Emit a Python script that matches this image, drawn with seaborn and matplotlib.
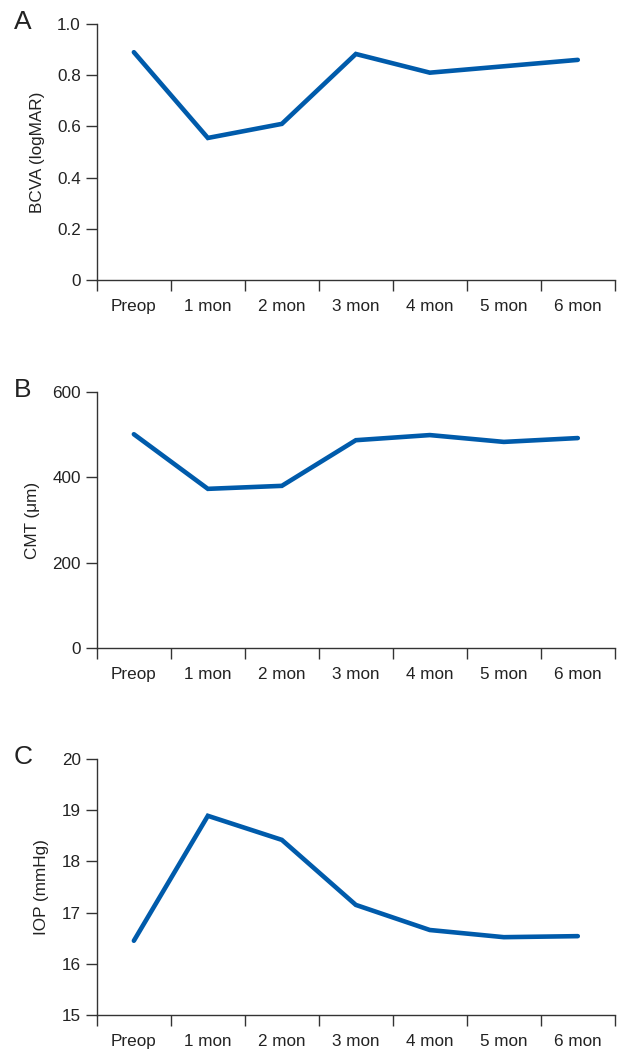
import matplotlib
matplotlib.use("Agg")
import matplotlib.pyplot as plt
import seaborn as sns
import pandas as pd
import numpy as np

# data
visits = ["Preop", "1 mon", "2 mon", "3 mon", "4 mon", "5 mon", "6 mon"]
bcva = [0.89, 0.555, 0.61, 0.883, 0.81, 0.835, 0.86]
cmt = [501, 373, 380, 487, 499, 483, 492]
iop = [16.45, 18.89, 18.42, 17.15, 16.66, 16.52, 16.54]

sns.set_style("ticks")
plt.rcParams["font.family"] = ["Liberation Sans", "DejaVu Sans"]

line_color = "#005bab"
axis_color = "#333333"

fig = plt.figure(figsize=(6.21, 10.54), dpi=100)

panels = [
    ("A", bcva, "BCVA (logMAR)", (0, 1.0), [0, 0.2, 0.4, 0.6, 0.8, 1.0], ["0", "0.2", "0.4", "0.6", "0.8", "1.0"], 0.7343),
    ("B", cmt, "CMT (\u03bcm)", (0, 600), [0, 200, 400, 600], ["0", "200", "400", "600"], 0.3852),
    ("C", iop, "IOP (mmHg)", (15, 20), [15, 16, 17, 18, 19, 20], ["15", "16", "17", "18", "19", "20"], 0.037),
]

for letter, vals, ylabel, ylim, yticks, yticklabels, bottom in panels:
    ax = fig.add_axes([0.156, bottom, 0.834, 0.2429])
    df = pd.DataFrame({"pos": np.arange(len(visits)), "value": vals})
    sns.lineplot(data=df, x="pos", y="value", ax=ax, color=line_color,
                 linewidth=3.3, solid_capstyle="round", solid_joinstyle="miter")
    ax.set_xlim(-0.5, len(visits) - 0.5)
    ax.set_ylim(*ylim)
    ax.set_yticks(yticks)
    ax.set_yticklabels(yticklabels)
    # ticks on the cell boundaries, labels centred in the cells
    ax.set_xticks(np.arange(-0.5, len(visits), 1.0))
    ax.set_xticklabels([])
    ax.set_xticks(np.arange(len(visits)), minor=True)
    ax.set_xticklabels(visits, minor=True)
    ax.tick_params(axis="x", which="minor", length=0, pad=14, labelsize=12.3, colors="#222222")
    ax.tick_params(axis="x", which="major", length=8, width=1, color=axis_color)
    ax.tick_params(axis="y", length=8, width=1, color=axis_color, labelsize=12.3, labelcolor="#222222")
    ax.set_xlabel("")
    ax.set_ylabel(ylabel, fontsize=12.3, color="#222222", labelpad=9)
    sns.despine(ax=ax)
    for s in ["left", "bottom"]:
        ax.spines[s].set_color(axis_color)
        ax.spines[s].set_linewidth(1)
    for ln in ax.lines:
        ln.set_clip_on(False)
    fig.text(0.022, bottom + 0.2429 + 0.002, letter, fontsize=19, color="#222222", va="center", ha="left")

fig.savefig("out.png", dpi=100)
